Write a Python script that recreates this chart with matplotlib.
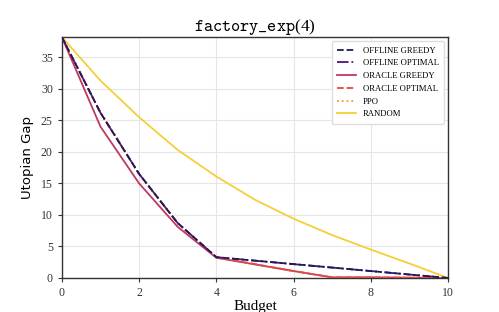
import numpy as np
import matplotlib
matplotlib.use("Agg")
import matplotlib.pyplot as plt

plt.rcParams['font.family'] = ['Liberation Serif', 'DejaVu Serif']
plt.rcParams['mathtext.fontset'] = 'cm'

# datos
budget = [0, 1, 2, 3, 4, 5, 6, 7, 8, 9, 10]
offline_greedy = [38.2, 26.2, 16.5, 8.7, 3.3, 2.75, 2.2, 1.65, 1.1, 0.55, 0.0]
offline_optimal = [38.2, 26.2, 16.5, 8.7, 3.3, 2.75, 2.2, 1.65, 1.1, 0.55, 0.0]
oracle_greedy = [38.2, 24.0, 15.0, 8.1, 3.2, 2.15, 1.1, 0.1, 0.1, 0.05, 0.0]
oracle_optimal = [38.2, 26.2, 16.5, 8.7, 3.3, 2.2, 1.1, 0.1, 0.1, 0.05, 0.0]
ppo = [38.2, 26.2, 16.5, 8.7, 3.3, 2.2, 1.1, 0.1, 0.1, 0.05, 0.0]
random_ = [38.2, 31.3, 25.5, 20.3, 16.1, 12.4, 9.4, 6.8, 4.5, 2.3, 0.0]

fig = plt.figure(figsize=(4.99, 3.12), dpi=100)
ax = fig.add_axes([0.124, 0.109, 0.774, 0.772])

ax.plot(budget, offline_greedy, '--', color='#1c1a55', lw=1.3, label='OFFLINE GREEDY', zorder=5)
ax.plot(budget, offline_optimal, '-.', color='#4a157a', lw=1.3, label='OFFLINE OPTIMAL', zorder=4)
ax.plot(budget, oracle_greedy, '-', color='#bb3a60', lw=1.3, label='ORACLE GREEDY', zorder=3)
ax.plot(budget, oracle_optimal, '--', color='#e5484a', lw=1.3, label='ORACLE OPTIMAL', zorder=4)
ax.plot(budget, ppo, ':', color='#f99a1c', lw=1.3, label='PPO', zorder=3)
ax.plot(budget, random_, '-', color='#f5cf35', lw=1.3, label='RANDOM', zorder=2)

ax.set_xlim(0, 10)
ax.set_ylim(0, 38.2)
ax.set_xticks([0, 2, 4, 6, 8, 10])
ax.set_yticks([0, 5, 10, 15, 20, 25, 30, 35])
ax.grid(True, color='#e6e6e6', lw=0.8)
ax.set_axisbelow(True)
ax.tick_params(labelsize=8.5, length=3, width=0.8, color='#333333', labelcolor='#333333')
for s in ax.spines.values():
    s.set_color('#333333')
    s.set_linewidth(1.0)

ax.set_xlabel('Budget', fontsize=11, labelpad=1)
ax.set_ylabel('Utopian Gap', fontsize=9.5, family='DejaVu Sans', labelpad=5)
ax.set_title(r'$\mathtt{factory\_exp}$(4)', fontsize=12.5, pad=4)

ax.legend(loc='upper right', fontsize=6.2, handlelength=2.2, labelspacing=0.55,
          borderpad=0.6, framealpha=1, edgecolor='#dddddd', fancybox=True)

plt.savefig('out.png', dpi=100)
